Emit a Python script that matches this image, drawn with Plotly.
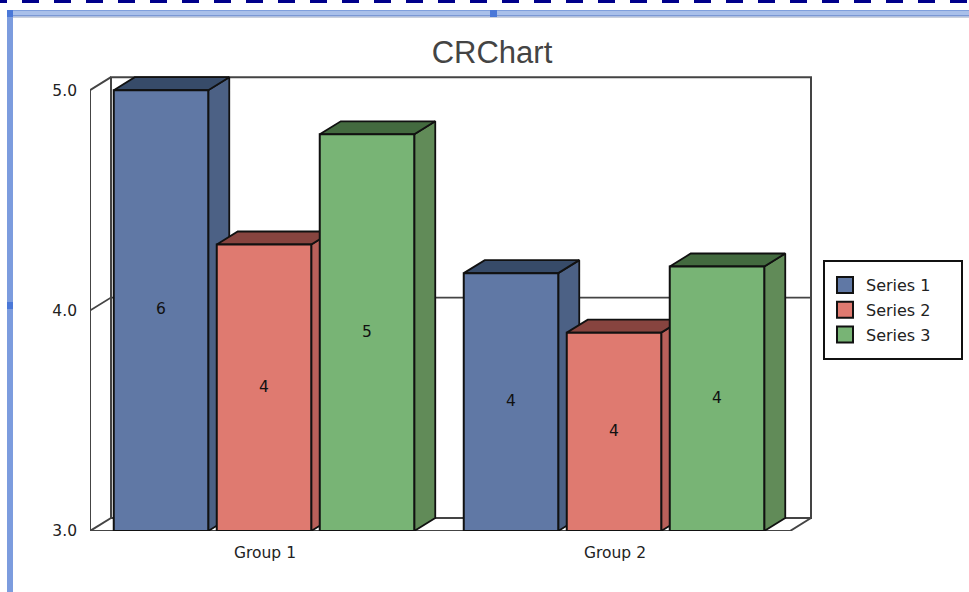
import plotly.graph_objects as go

# Chart content
title_text = "CRChart"
groups = ["Group 1", "Group 2"]
series_names = ["Series 1", "Series 2", "Series 3"]
series_1 = [6.0, 4.17]
series_2 = [4.30, 3.90]
series_3 = [4.80, 4.20]
y_ticks = [3, 4, 5]

# Canvas and plot-area geometry, in pixels
W, H = 969, 592
LEFT, RIGHT, TOP, BOTTOM = 90, 814, 70, 531
UNIT_X = 350.0          # pixels per group
UNIT_Y = 220.4          # pixels per unit of value
Y_MIN, Y_MAX = 3.0, 5.0
DX, DY = 21 / UNIT_X, 13 / UNIT_Y   # extrusion of the 3D box
BAR_W = 94.5 / UNIT_X
BAR_PITCH = 103 / UNIT_X
BAR_SHIFT = -1 / UNIT_X

front = ["#6078a5", "#df7a70", "#78b475"]
side = ["#4c6185", "#b9605a", "#618b58"]
top = ["#374b69", "#87443f", "#436a3f"]
EDGE = "#111111"
WALL = "#444444"
FONT = "DejaVu Sans"


def px(x):
    return (x - LEFT) / (RIGHT - LEFT)


def py(y):
    return (BOTTOM - y) / (BOTTOM - TOP)


fig = go.Figure()


def poly(xs, ys, fill, width=1.8):
    fig.add_trace(go.Scatter(
        x=xs + xs[:1], y=ys + ys[:1], mode="lines", fill="toself", fillcolor=fill,
        line=dict(color=EDGE, width=width), showlegend=False, hoverinfo="skip",
        cliponaxis=False,
    ))


def wall_line(xs, ys, width=2, color=WALL):
    fig.add_trace(go.Scatter(
        x=xs, y=ys, mode="lines", line=dict(color=color, width=width),
        showlegend=False, hoverinfo="skip", cliponaxis=False,
    ))


# Box walls and floor
x_end = float(len(groups))
wall_line([DX, x_end + DX, x_end + DX, DX, DX],
          [Y_MIN + DY, Y_MIN + DY, Y_MAX + DY, Y_MAX + DY, Y_MIN + DY])
wall_line([0, 0, DX], [Y_MIN, Y_MAX, Y_MAX + DY])
wall_line([0, DX], [Y_MIN, Y_MIN + DY])
wall_line([0, x_end, x_end + DX], [Y_MIN, Y_MIN, Y_MIN + DY])

# Gridline at the middle tick, across the side wall and the back wall
wall_line([0, DX, x_end + DX], [4, 4 + DY, 4 + DY], width=1.8)

# Bars, back to front, left to right; values past the axis are cut at its top
all_series = [series_1, series_2, series_3]
label_x, label_y, label_text = [], [], []
for g in range(len(groups)):
    for s, values in enumerate(all_series):
        v = values[g]
        h = min(v, Y_MAX)
        x0 = g + 0.5 + BAR_SHIFT + (s - 1) * BAR_PITCH - BAR_W / 2
        x1 = x0 + BAR_W
        poly([x1, x1 + DX, x1 + DX, x1], [Y_MIN, Y_MIN + DY, h + DY, h], side[s])
        poly([x0, x0 + DX, x1 + DX, x1], [h, h + DY, h + DY, h], top[s])
        poly([x0, x1, x1, x0], [Y_MIN, Y_MIN, h, h], front[s], width=2)
        label_x.append((x0 + x1) / 2)
        label_y.append((Y_MIN + h) / 2)
        label_text.append(f"{v:.0f}")

fig.add_trace(go.Scatter(
    x=label_x, y=label_y, text=label_text, mode="text", showlegend=False,
    textposition="middle center", hoverinfo="skip",
    textfont=dict(family=FONT, size=15.5, color="#111111"),
))

# Legend entries
for s, name in enumerate(series_names):
    fig.add_trace(go.Scatter(
        x=[None], y=[None], mode="markers", name=name, legendgroup=name,
        marker=dict(symbol="square", size=16, color=front[s],
                    line=dict(color=EDGE, width=2)),
    ))

# Window frame around the chart and the legend box
band = [(10, 11.5, "#7f9fdc"), (11.5, 15, "#a9c0ea"), (15, 16.5, "#7b98d4"), (16.5, 18, "#c9d0dc")]
shapes = [
    dict(type="line", x0=px(-10), x1=px(W), y0=py(1.5), y1=py(1.5), xref="paper", yref="paper",
         line=dict(color="#00008b", width=3, dash="17px,15px")),
    dict(type="rect", x0=px(7), x1=px(13), y0=py(10), y1=py(H), xref="paper", yref="paper",
         fillcolor="#7c9cde", line_width=0),
    dict(type="rect", x0=px(7), x1=px(13), y0=py(10), y1=py(17), xref="paper", yref="paper",
         fillcolor="#4a78d8", line_width=0),
    dict(type="rect", x0=px(490), x1=px(497), y0=py(10), y1=py(17), xref="paper", yref="paper",
         fillcolor="#4a78d8", line_width=0),
    dict(type="rect", x0=px(7), x1=px(13), y0=py(302), y1=py(309), xref="paper", yref="paper",
         fillcolor="#4a78d8", line_width=0),
    dict(type="rect", x0=px(824), x1=px(962), y0=py(261), y1=py(359), xref="paper", yref="paper",
         fillcolor="white", line=dict(color="#111111", width=2)),
]
for y0, y1, color in band:
    shapes.insert(1, dict(type="rect", x0=px(13), x1=px(W), y0=py(y0), y1=py(y1),
                          xref="paper", yref="paper", fillcolor=color, line_width=0))

fig.update_layout(
    width=W, height=H, autosize=False,
    margin=dict(l=LEFT, r=W - RIGHT, t=TOP, b=H - BOTTOM, pad=0),
    paper_bgcolor="white", plot_bgcolor="rgba(0,0,0,0)",
    shapes=shapes,
    showlegend=True,
    title=dict(text=title_text, x=px(492), xref="paper", xanchor="center",
               y=1 - 52 / H, yref="container", yanchor="middle",
               font=dict(family="Liberation Sans", size=31, color="#444444")),
    legend=dict(x=px(824), y=py(268), xanchor="left", yanchor="top",
                bgcolor="rgba(0,0,0,0)", borderwidth=0,
                font=dict(family=FONT, size=16, color="#222222"),
                itemwidth=32, tracegroupgap=1, itemclick=False, itemdoubleclick=False),
    xaxis=dict(range=[0, (RIGHT - LEFT) / UNIT_X], showgrid=False, zeroline=False, showline=False,
               tickmode="array", tickvals=[i + 0.5 for i in range(len(groups))], ticktext=groups,
               ticks="", ticklabelstandoff=10,
               tickfont=dict(family=FONT, size=15.5, color="#222222")),
    yaxis=dict(range=[Y_MIN, Y_MIN + (BOTTOM - TOP) / UNIT_Y], showgrid=False, zeroline=False,
               showline=False, tickmode="array", tickvals=y_ticks,
               ticktext=[f"{t:.1f}" for t in y_ticks], ticks="", ticklabelstandoff=12,
               tickfont=dict(family=FONT, size=15.5, color="#222222")),
)

fig.write_html("out.html", config=dict(displayModeBar=False))
